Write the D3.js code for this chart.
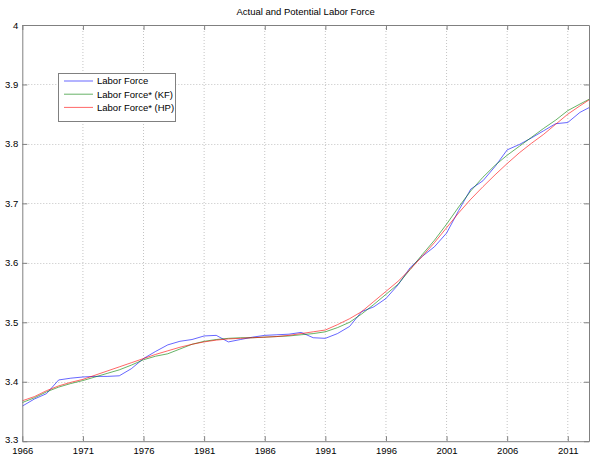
<!DOCTYPE html>
<html><head><meta charset="utf-8">
<script src="https://cdn.jsdelivr.net/npm/d3@7"></script>
<style>body{margin:0;background:#fff}svg{display:block;font-family:"Liberation Sans",Arial,sans-serif}</style>
</head><body><svg id="c" width="590" height="455"></svg>
<script>
const years = [1966,1967,1968,1969,1970,1971,1972,1973,1974,1975,1976,1977,1978,1979,1980,1981,1982,1983,1984,1985,1986,1987,1988,1989,1990,1991,1992,1993,1994,1995,1996,1997,1998,1999,2000,2001,2002,2003,2004,2005,2006,2007,2008,2009,2010,2011,2012,2012.75];
const laborForce = [3.359,3.371,3.380,3.403,3.406,3.408,3.409,3.409,3.410,3.422,3.439,3.451,3.462,3.468,3.471,3.477,3.478,3.467,3.471,3.475,3.478,3.479,3.480,3.483,3.474,3.473,3.481,3.493,3.518,3.526,3.540,3.563,3.592,3.611,3.627,3.650,3.688,3.724,3.738,3.762,3.790,3.799,3.810,3.822,3.834,3.836,3.853,3.861];
const laborForceKF = [3.365,3.373,3.383,3.391,3.397,3.402,3.408,3.414,3.420,3.428,3.437,3.443,3.447,3.455,3.463,3.468,3.471,3.473,3.474,3.474,3.475,3.476,3.477,3.479,3.481,3.484,3.491,3.500,3.514,3.530,3.547,3.564,3.589,3.614,3.638,3.665,3.694,3.721,3.744,3.764,3.781,3.796,3.811,3.826,3.840,3.856,3.867,3.875];
const laborForceHP = [3.368,3.375,3.385,3.393,3.399,3.404,3.411,3.418,3.425,3.432,3.439,3.446,3.452,3.458,3.463,3.467,3.470,3.472,3.473,3.474,3.475,3.476,3.478,3.481,3.484,3.487,3.496,3.506,3.518,3.535,3.552,3.569,3.589,3.611,3.634,3.659,3.684,3.707,3.728,3.748,3.767,3.785,3.801,3.816,3.833,3.850,3.864,3.874];
const xTicks = [1966,1971,1976,1981,1986,1991,1996,2001,2006,2011];
const yTicks = [3.3,3.4,3.5,3.6,3.7,3.8,3.9,4];
const seriesNames = ["Labor Force","Labor Force* (KF)","Labor Force* (HP)"];
const seriesColors = ["#0000ff","#008000","#ff0000"];
const seriesData = [laborForce, laborForceKF, laborForceHP];

const L=22.3, R=589, T=25, B=441.2;
const svg = d3.select("#c");
const x = d3.scaleLinear().domain([1966, 2012.75]).range([L, R]);
const y = d3.scaleLinear().domain([3.3, 4]).range([B, T]);
const fs = "9.5px";

// grid
const g = svg.append("g");
g.selectAll(".gx").data(xTicks.slice(1)).enter().append("line")
  .attr("x1", d=>x(d)).attr("x2", d=>x(d)).attr("y1", T).attr("y2", B)
  .attr("stroke","#c4c4c4").attr("stroke-width",1).attr("stroke-dasharray","1,2");
g.selectAll(".gy").data(yTicks.slice(1,-1)).enter().append("line")
  .attr("y1", d=>Math.round(y(d))+0.5).attr("y2", d=>Math.round(y(d))+0.5).attr("x1", L).attr("x2", R)
  .attr("stroke","#c4c4c4").attr("stroke-width",1).attr("stroke-dasharray","1,2");

// lines
const line = d3.line().x((d,i)=>x(years[i])).y(d=>y(d));
seriesData.forEach((s,k)=>{
  svg.append("path").datum(s).attr("d", line).attr("fill","none")
    .attr("stroke", seriesColors[k]).attr("stroke-width",0.6);
});

// axes (ticks inside)
const axColor = "#808080";
const ax = svg.append("g");
const axB = ax.append("g").attr("transform",`translate(0,${B})`).call(d3.axisBottom(x).tickValues(xTicks).tickFormat(d3.format("d")).tickSizeInner(-5).tickSizeOuter(0).tickPadding(8));
const axT = ax.append("g").attr("transform",`translate(0,${T})`).call(d3.axisTop(x).tickValues(xTicks).tickFormat("").tickSizeInner(-5).tickSizeOuter(0));
const axL = ax.append("g").attr("transform",`translate(${L},0)`).call(d3.axisLeft(y).tickValues(yTicks).tickFormat(d=>d3.format("")(d)).tickSizeInner(-5).tickSizeOuter(0).tickPadding(8));
const axR = ax.append("g").attr("transform",`translate(${R},0)`).call(d3.axisRight(y).tickValues(yTicks).tickFormat("").tickSizeInner(-5).tickSizeOuter(0));
[axB,axT,axL,axR].forEach(a=>{
  a.selectAll("path").attr("stroke",axColor);
  a.selectAll("line").attr("stroke",axColor);
  a.selectAll("text").attr("fill","#000").style("font-size",fs).style("font-family","'Liberation Sans',Arial,sans-serif");
});
axB.selectAll("text").attr("y",6).attr("dy","0.71em");
axL.selectAll("text").attr("x",-4).attr("dy", d => d === 3.3 ? "0.1em" : "0.32em");

// title
svg.append("text").attr("x",(L+R)/2).attr("y",15).attr("text-anchor","middle")
  .style("font-size",fs).text("Actual and Potential Labor Force");

// legend
const lg = svg.append("g");
lg.append("rect").attr("x",58.5).attr("y",73.5).attr("width",117).attr("height",48)
  .attr("fill","#fff").attr("stroke",axColor).attr("stroke-width",1);
seriesNames.forEach((n,k)=>{
  const yy = 81 + k*13.2;
  lg.append("line").attr("x1",64).attr("x2",93).attr("y1",yy).attr("y2",yy)
    .attr("stroke",seriesColors[k]).attr("stroke-width",0.6);
  lg.append("text").attr("x",97).attr("y",yy).attr("dy","0.35em").style("font-size",fs).text(n);
});
</script></body></html>
